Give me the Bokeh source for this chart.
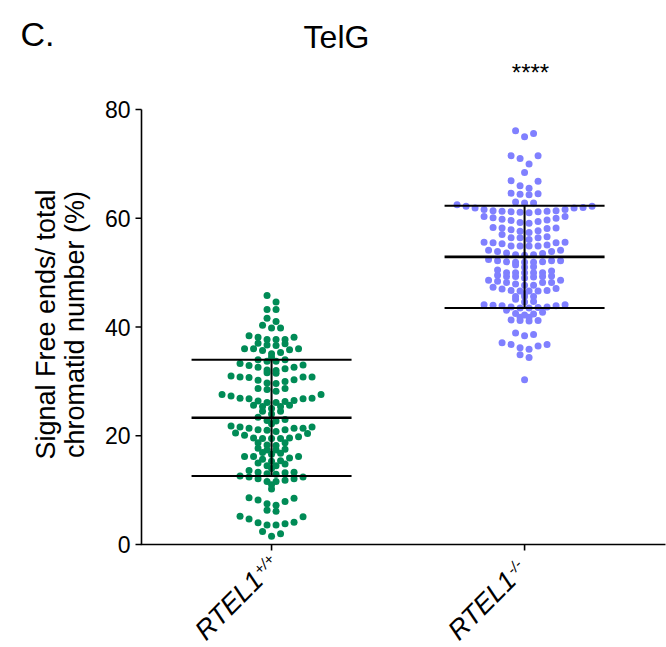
import math
from bokeh.plotting import figure
from bokeh.models import Range1d, ColumnDataSource
from bokeh.core.properties import value
from bokeh.embed import file_html
from bokeh.resources import INLINE

# ---------------- data ----------------
panel_letter = "C."
title_text = "TelG"
signif_text = "****"
y_label_lines = ["Signal Free ends/ total", "chromatid number (%)"]
group_names = ["RTEL1", "RTEL1"]
group_sups = ["+/+", "-/-"]
group_colors = ["#008B56", "#8080FF"]
y_ticks = [0, 20, 40, 60, 80]

wt_values = [
    45.8, 44.6, 43.2, 43.2, 41.6, 41.0, 40.3, 39.8, 39.8, 38.4,
    38.1, 38.1, 37.7, 37.7, 37.7, 37.0, 36.9, 36.7, 36.6, 36.0,
    36.0, 36.0, 35.8, 35.7, 35.3, 35.1, 34.5, 34.0, 34.0, 33.7,
    33.7, 33.3, 33.0, 32.9, 32.6, 32.6, 32.3, 32.1, 32.0, 31.6,
    31.5, 31.0, 30.8, 30.8, 30.8, 30.7, 30.3, 30.2, 30.0, 29.7,
    29.6, 28.7, 28.7, 28.5, 28.2, 27.6, 27.6, 27.3, 26.9, 26.9,
    26.8, 26.8, 26.5, 26.4, 26.3, 26.1, 26.1, 25.6, 25.6, 25.4,
    25.4, 25.0, 24.5, 24.5, 24.0, 23.4, 23.0, 22.8, 22.7, 22.2,
    21.8, 21.6, 21.6, 21.4, 21.4, 21.4, 21.1, 21.1, 21.0, 20.8,
    20.5, 20.4, 20.1, 19.8, 19.6, 19.6, 19.5, 19.5, 19.5, 18.7,
    18.7, 18.3, 18.2, 17.7, 17.5, 17.4, 17.4, 16.9, 16.8, 16.6,
    16.2, 16.2, 16.2, 15.9, 15.7, 15.4, 15.3, 15.0, 14.8, 14.5,
    14.5, 14.0, 13.6, 13.3, 13.3, 13.2, 13.0, 12.9, 12.6, 12.4,
    12.4, 12.1, 12.1, 11.8, 11.6, 11.6, 11.0, 10.2, 8.6, 8.5,
    8.2, 7.9, 7.5, 7.2, 6.3, 6.1, 5.2, 5.1, 4.7, 4.1,
    4.0, 3.8, 3.6, 3.6, 2.4, 2.0, 1.5,
]

ko_values = [
    76.1, 75.6, 75.0, 71.5, 71.5, 71.0, 70.0, 68.4, 66.9, 66.8,
    66.0, 65.5, 64.6, 64.5, 64.4, 64.3, 63.0, 62.8, 62.8,
    62.5, 62.2, 61.9, 61.6, 61.4, 61.3, 61.2, 61.1, 61.0, 61.2, 61.3, 61.4, 61.6, 61.9, 62.0, 62.2,
    60.3, 60.0, 59.7, 59.4, 59.1, 59.2, 59.6, 59.8, 60.1, 60.3,
    58.2, 58.1, 57.7, 57.4, 57.0, 57.6, 57.9, 58.2, 58.3,
    56.4, 56.4, 56.4, 56.6,
    54.9, 54.9, 54.9, 54.9, 55.6, 55.6, 55.5, 55.5, 55.3, 56.1, 55.1,
    54.1, 54.1, 53.9, 53.9, 53.6, 53.5, 53.2, 53.3, 53.3,
    52.4, 52.2, 52.2, 52.2, 52.0, 52.0, 51.9, 51.9, 51.9,
    51.4, 51.0, 50.3, 50.0, 50.0, 50.0, 50.0, 50.0, 50.5, 51.1,
    49.4, 49.3, 49.3, 49.2, 48.6, 48.6, 48.4, 48.2, 48.2, 49.0, 49.3, 49.5,
    48.2, 47.7, 47.7, 47.3, 47.0, 46.7, 46.6, 46.6, 46.6, 46.7, 47.1, 47.9,
    46.1, 45.6, 45.6, 45.6, 45.1, 44.6, 44.7,
    44.1, 44.0, 43.9, 43.9, 43.7, 43.7, 43.5, 43.5, 43.1, 42.7, 43.6, 44.1,
    42.5, 42.2, 41.8, 41.8, 41.2, 41.2, 41.1, 41.3, 42.4,
    38.6, 38.4, 38.9,
    37.1, 36.8, 36.2, 35.9, 36.5, 36.8,
    34.9, 34.4,
    30.3,
]

group_means = [23.3, 52.9]
group_sds = [10.7, 9.4]

# ---------------- layout ----------------
W, H = 666, 647
AX_LEFT, AX_TOP, AX_RIGHT, AX_BOTTOM = 141, 109, 665, 544   # data area in canvas px
XD0, XD1 = 0.486, 2.557        # x data span over the data area
YD0, YD1 = 0, 80
group_pos = [1, 2]
px_x = (AX_RIGHT - AX_LEFT) / (XD1 - XD0)
px_y = (AX_BOTTOM - AX_TOP) / (YD1 - YD0)
DOT_STEP_PX = 9.0
BAR_HALF_PX = 80.0
TICK_PX = 6
FONT = "Liberation Sans"


def dx(sx):
    return XD0 + (sx - AX_LEFT) / px_x


def dy(sy):
    return YD0 + (AX_BOTTOM - sy) / px_y


def swarm_offsets(vals, w=1.6):
    """Split the sorted values into rows at their natural gaps (no row taller
    than w), then spread each row sideways, lowest values in the middle."""
    order = sorted(range(len(vals)), key=lambda i: -vals[i])

    def split(seg):
        if len(seg) < 2 or vals[seg[0]] - vals[seg[-1]] <= w:
            return [seg]
        gaps = [vals[seg[k]] - vals[seg[k + 1]] for k in range(len(seg) - 1)]
        k = max(range(len(gaps)), key=lambda j: gaps[j])
        return split(seg[:k + 1]) + split(seg[k + 1:])

    off = [0.0] * len(vals)
    for r in split(order):
        n = len(r)
        slots = [k - (n - 1) / 2 for k in range(n)]
        slots.sort(key=lambda s: (abs(s), -s))
        r_sorted = sorted(r, key=lambda i: vals[i])
        for i, s in zip(r_sorted, slots):
            off[i] = s
    return off


p = figure(width=W, height=H, output_backend="svg", toolbar_location=None,
           x_range=Range1d(dx(0), dx(W)), y_range=Range1d(dy(H), dy(0)),
           x_axis_location=None, y_axis_location=None,
           min_border=0, min_border_left=0, min_border_right=0,
           min_border_top=0, min_border_bottom=0)
p.outline_line_color = None
p.grid.visible = False
p.background_fill_color = "white"
p.border_fill_color = "white"

# ---- axes drawn with the plot's scales ----
AXW = 1.6
p.segment(x0=[XD0], x1=[XD0], y0=[YD0], y1=[YD1], line_color="black", line_width=AXW)
p.segment(x0=[XD0 - AXW / 2 / px_x], x1=[XD1], y0=[YD0], y1=[YD0],
          line_color="black", line_width=AXW)
p.segment(x0=[XD0 - TICK_PX / px_x] * len(y_ticks), x1=[XD0] * len(y_ticks),
          y0=y_ticks, y1=y_ticks, line_color="black", line_width=AXW)
p.text(x=[XD0 - (TICK_PX + 5) / px_x] * len(y_ticks), y=y_ticks,
       text=[str(t) for t in y_ticks], text_font=value(FONT),
       text_font_size="23px", text_color="black",
       text_align="right", text_baseline="middle")
p.segment(x0=group_pos, x1=group_pos, y0=[YD0] * 2,
          y1=[YD0 - TICK_PX / px_y] * 2, line_color="black", line_width=AXW)

# ---- swarms ----
for gi, vals in enumerate([wt_values, ko_values]):
    offs = swarm_offsets(vals)
    xs = [group_pos[gi] + o * DOT_STEP_PX / px_x for o in offs]
    src = ColumnDataSource(dict(x=xs, y=vals))
    p.scatter("x", "y", source=src, size=7, fill_color=group_colors[gi],
              line_color=None)

# ---- mean +/- SD bars ----
half = BAR_HALF_PX / px_x
for gi in range(2):
    xc, m, s = group_pos[gi], group_means[gi], group_sds[gi]
    p.segment(x0=[xc - half], x1=[xc + half], y0=[m], y1=[m],
              line_color="black", line_width=2.6)
    p.segment(x0=[xc - half, xc - half], x1=[xc + half, xc + half],
              y0=[m - s, m + s], y1=[m - s, m + s],
              line_color="black", line_width=2.0)
    p.segment(x0=[xc], x1=[xc], y0=[m - s], y1=[m + s],
              line_color="black", line_width=2.0)

# ---- texts ----
p.text(x=[dx(20)], y=[dy(33)], text=[panel_letter], text_font=value(FONT),
       text_font_size="34px", text_color="black",
       text_align="left", text_baseline="middle")
p.text(x=[dx(336)], y=[dy(36)], text=[title_text], text_font=value(FONT),
       text_font_size="32px", text_color="black",
       text_align="center", text_baseline="middle")
p.text(x=[dx(530)], y=[dy(72)], text=[signif_text], text_font=value(FONT),
       text_font_size="24px", text_color="black",
       text_align="center", text_baseline="middle")

for line, bx in zip(y_label_lines, [45, 74.5]):
    p.text(x=[dx(bx)], y=[dy(324)], text=[line], text_font=value(FONT),
           text_font_size="27px", text_color="black", angle=math.pi / 2,
           text_align="center", text_baseline="middle")

c45 = math.cos(math.pi / 4)
MAIN_FS, SUP_FS = 27, 15
for gi in range(2):
    tick_sx = AX_LEFT + (group_pos[gi] - XD0) * px_x
    mx, my = tick_sx - 42.5, 605.0                 # centre of main label
    along = 3.112 * MAIN_FS / 2 + 1.0              # to the end of "RTEL1"
    rise = 5.0
    sx_ = mx + along * c45 - rise * c45
    sy_ = my - along * c45 - rise * c45
    p.text(x=[dx(mx)], y=[dy(my)], text=[group_names[gi]], text_font=value(FONT),
           text_font_style="italic", text_font_size=f"{MAIN_FS}px",
           text_color="black", angle=math.pi / 4,
           text_align="center", text_baseline="middle")
    p.text(x=[dx(sx_)], y=[dy(sy_)], text=[group_sups[gi]], text_font=value(FONT),
           text_font_style="italic", text_font_size=f"{SUP_FS}px",
           text_color="black", angle=math.pi / 4,
           text_align="left", text_baseline="middle")

open("out.html", "w").write(file_html(p, INLINE))
